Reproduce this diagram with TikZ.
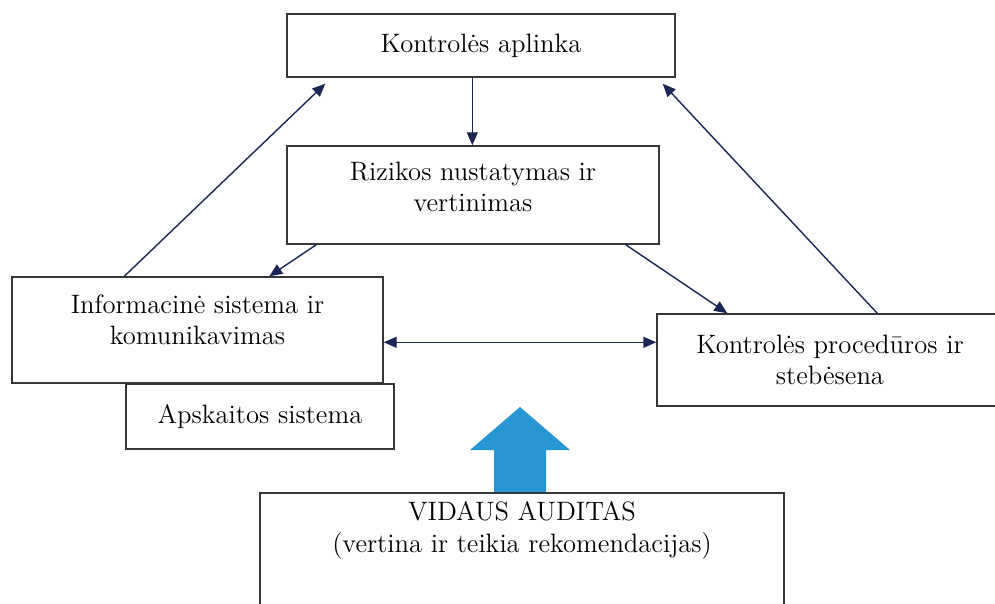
\documentclass[tikz,border=0pt]{standalone}
\usepackage{tikz}
\usetikzlibrary{arrows.meta}
\usetikzlibrary{positioning,calc}
\definecolor{linknavy}{RGB}{28,38,84}
\definecolor{boxgrey}{RGB}{55,55,55}
\definecolor{auditblue}{RGB}{41,150,212}
\tikzset{
    box/.style={
        draw=boxgrey,
        rectangle,
        line width=0.7pt,
        align=center,
        inner sep=0pt,
        font=\fontsize{13.3}{15.5}\selectfont
    },
    link/.style={
        draw=linknavy,
        line width=0.7pt,
        -{Triangle[length=6.5pt, width=5.5pt]}
    },
    twolink/.style={
        link,
        {Triangle[length=6.5pt, width=5.5pt]}-{Triangle[length=6.5pt, width=5.5pt]}
    }
}

\begin{document}
\begin{tikzpicture}[x=0.5pt, y=-0.5pt]
    \useasboundingbox (0,0) rectangle (995,604);
    % Boxes
    \node[box, minimum width=194pt, minimum height=31.5pt] (ctrlenv) at (481,45.5) {Kontrolės aplinka};
    \node[box, minimum width=186pt, minimum height=49pt] (rizika) at (473,195) {Rizikos nustatymas ir\\vertinimas\\[-7.5pt]};
    \node[box, minimum width=185.5pt, minimum height=53pt] (info) at (197.5,330) {Informacinė sistema ir\\komunikavimas\\[-5.5pt]};
    \node[box, minimum width=134pt, minimum height=32.5pt] (apskaita) at (260,416.5) {Apskaitos sistema};
    \node[box, minimum width=173pt, minimum height=46pt] (proc) at (830,360) {Kontrolės procedūros ir\\stebėsena};
    \node[box, minimum width=262pt, minimum height=73.5pt] (vidaus) at (522,566.5) {VIDAUS AUDITAS\\(vertina ir teikia rekomendacijas)\\[24pt]};

    % Arrows between the boxes
    \draw[link] ($(ctrlenv.south west)+(186,0)$) -- ($(rizika.north west)+(186,0)$);
    \draw[link] ($(info.north west)+(113,0)$) -- ($(ctrlenv.south west)+(39,6)$);
    \draw[link] ($(proc.north west)+(221,0)$) -- ($(ctrlenv.south east)+(-13,6)$);
    \draw[link] ($(rizika.south west)+(30,0)$) -- ($(info.north west)+(258,0)$);
    \draw[link] ($(rizika.south east)+(-34,0)$) -- ($(proc.north west)+(71,0)$);
    \draw[twolink] ($(info.north east)+(0,66)$) -- ($(proc.north west)+(0,29)$);

    % Audit arrow
    \fill[auditblue] (494,492) -- (546,492) -- (546,450) -- (570,450) -- (520,407)
        -- (470,450) -- (494,450) -- cycle;
\end{tikzpicture}
\end{document}
